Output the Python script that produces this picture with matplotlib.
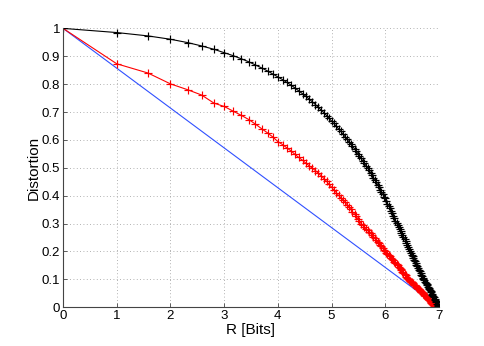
import numpy as np
import matplotlib
matplotlib.use("Agg")
import matplotlib.pyplot as plt

plt.rcParams['font.family'] = ['Liberation Sans', 'DejaVu Sans']

# rate axis (bits) for each of the 128 operating points
rate = [0, 1, 1.58, 2, 2.32, 2.58, 2.81, 3, 3.17, 3.32,
        3.46, 3.58, 3.70, 3.81, 3.91, 4, 4.09, 4.17, 4.25, 4.32,
        4.39, 4.46, 4.52, 4.58, 4.64, 4.70, 4.75, 4.81, 4.86, 4.91,
        4.95, 5, 5.04, 5.09, 5.13, 5.17, 5.21, 5.25, 5.29, 5.32,
        5.36, 5.39, 5.43, 5.46, 5.49, 5.52, 5.55, 5.58, 5.61, 5.64,
        5.67, 5.70, 5.73, 5.75, 5.78, 5.81, 5.83, 5.86, 5.88, 5.91,
        5.93, 5.95, 5.98, 6, 6.02, 6.04, 6.07, 6.09, 6.11, 6.13,
        6.15, 6.17, 6.19, 6.21, 6.23, 6.25, 6.27, 6.29, 6.30, 6.32,
        6.34, 6.36, 6.38, 6.39, 6.41, 6.43, 6.44, 6.46, 6.48, 6.49,
        6.51, 6.52, 6.54, 6.55, 6.57, 6.58, 6.60, 6.61, 6.63, 6.64,
        6.66, 6.67, 6.69, 6.70, 6.71, 6.73, 6.74, 6.75, 6.77, 6.78,
        6.79, 6.81, 6.82, 6.83, 6.85, 6.86, 6.87, 6.88, 6.89, 6.91,
        6.92, 6.93, 6.94, 6.95, 6.97, 6.98, 6.99, 7]

# black curve
dist_black = [1.0, 0.985, 0.973, 0.961, 0.949, 0.937, 0.925, 0.913, 0.902, 0.891,
              0.880, 0.869, 0.858, 0.847, 0.836, 0.826, 0.816, 0.806, 0.796, 0.786,
              0.776, 0.766, 0.757, 0.747, 0.737, 0.727, 0.717, 0.707, 0.697, 0.687,
              0.678, 0.668, 0.659, 0.649, 0.640, 0.631, 0.622, 0.612, 0.603, 0.594,
              0.585, 0.577, 0.568, 0.560, 0.551, 0.542, 0.534, 0.525, 0.517, 0.508,
              0.500, 0.491, 0.482, 0.474, 0.465, 0.457, 0.448, 0.440, 0.431, 0.422,
              0.414, 0.405, 0.397, 0.390, 0.381, 0.372, 0.364, 0.355, 0.346, 0.337,
              0.328, 0.320, 0.311, 0.302, 0.295, 0.288, 0.280, 0.273, 0.266, 0.259,
              0.252, 0.244, 0.237, 0.230, 0.223, 0.216, 0.208, 0.201, 0.195, 0.189,
              0.183, 0.177, 0.171, 0.165, 0.159, 0.153, 0.147, 0.141, 0.135, 0.129,
              0.123, 0.117, 0.111, 0.105, 0.101, 0.096, 0.092, 0.088, 0.083, 0.079,
              0.074, 0.070, 0.066, 0.061, 0.057, 0.053, 0.048, 0.044, 0.039, 0.035,
              0.031, 0.026, 0.022, 0.018, 0.013, 0.009, 0.004, 0.0]

# red curve
dist_red = [1.0, 0.873, 0.840, 0.801, 0.780, 0.761, 0.732, 0.720, 0.703, 0.688,
            0.673, 0.657, 0.640, 0.625, 0.610, 0.594, 0.583, 0.571, 0.560, 0.548,
            0.537, 0.527, 0.517, 0.508, 0.499, 0.490, 0.481, 0.471, 0.461, 0.451,
            0.441, 0.431, 0.421, 0.411, 0.401, 0.393, 0.384, 0.376, 0.368, 0.359,
            0.351, 0.342, 0.334, 0.326, 0.317, 0.309, 0.300, 0.294, 0.288, 0.282,
            0.276, 0.270, 0.265, 0.259, 0.253, 0.247, 0.241, 0.235, 0.229, 0.223,
            0.218, 0.212, 0.206, 0.200, 0.195, 0.191, 0.186, 0.182, 0.177, 0.173,
            0.168, 0.164, 0.159, 0.155, 0.150, 0.146, 0.141, 0.137, 0.132, 0.128,
            0.123, 0.119, 0.114, 0.110, 0.105, 0.100, 0.097, 0.094, 0.092, 0.089,
            0.086, 0.083, 0.081, 0.078, 0.075, 0.072, 0.069, 0.067, 0.064, 0.061,
            0.058, 0.056, 0.053, 0.050, 0.047, 0.044, 0.042, 0.039, 0.036, 0.033,
            0.031, 0.028, 0.025, 0.022, 0.019, 0.017, 0.014, 0.011, 0.008, 0.006,
            0.003, 0.0, 0.0, 0.0, 0.0, 0.0, 0.0, 0.0]

# blue straight line
rate_blue = [0, 7]
dist_blue = [1.0, 0.0]

xticks = [0, 1, 2, 3, 4, 5, 6, 7]
yticks = [0, 0.1, 0.2, 0.3, 0.4, 0.5, 0.6, 0.7, 0.8, 0.9, 1]
ytick_labels = ['0', '0.1', '0.2', '0.3', '0.4', '0.5', '0.6', '0.7', '0.8', '0.9', '1']

fig = plt.figure(figsize=(4.85, 3.46), dpi=100)
ax = fig.add_axes([0.130, 0.112, 0.775, 0.806])

ax.plot(rate_blue, dist_blue, color='#3050ff', lw=0.8)
ax.plot(rate, dist_red, color='red', lw=0.8, marker='+', ms=5.5, mew=0.85)
ax.plot(rate, dist_black, color='black', lw=0.8, marker='+', ms=5.5, mew=0.85)

ax.set_xlim(0, 7)
ax.set_ylim(0, 1)
ax.set_xticks(xticks)
ax.set_yticks(yticks)
ax.set_yticklabels(ytick_labels)
ax.grid(True, linestyle=(0, (1, 3)), color='#999999', lw=0.6)

for s in ['top', 'right']:
    ax.spines[s].set_visible(False)
for s in ['left', 'bottom']:
    ax.spines[s].set_color('#444444')
    ax.spines[s].set_linewidth(0.8)
ax.tick_params(direction='in', length=3, width=0.6, color='#444444', labelsize=9.5, pad=2)

ax.set_xlabel('R [Bits]', fontsize=11, labelpad=1)
ax.set_ylabel('Distortion', fontsize=11, labelpad=1)

fig.savefig('out.png', dpi=100)
